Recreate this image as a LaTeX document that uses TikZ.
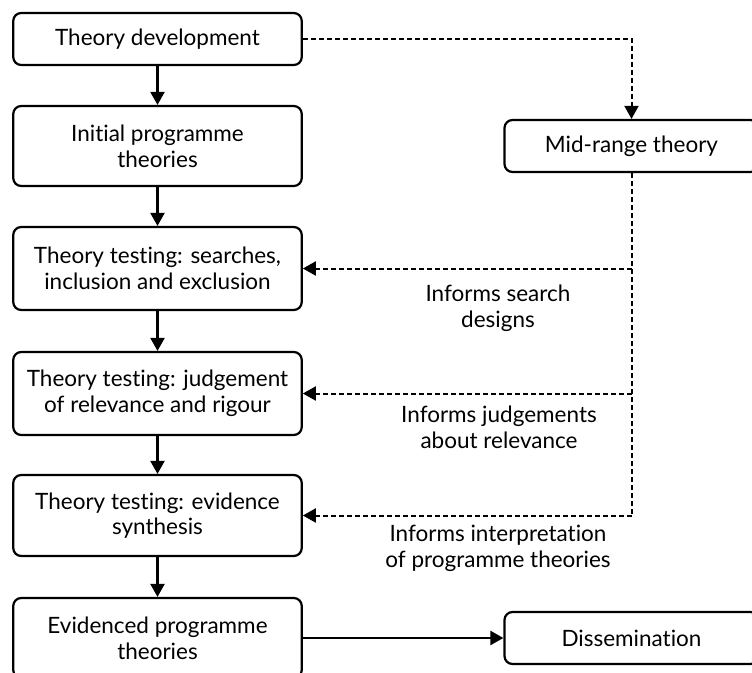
\documentclass[tikz,border=0pt]{standalone}
\usepackage{fontspec}
\setmainfont{Lato}[RawFeature={-liga}]
\usetikzlibrary{arrows.meta}
\begin{document}
\begin{tikzpicture}[x=1pt,y=-1pt,
  box/.style={draw, line width=2.2pt, rounded corners=8pt, align=center,
    inner sep=0pt, font=\fontsize{22.5}{25.7}\selectfont},
  stage/.style={box, minimum width=288.5pt},
  side/.style={box, minimum width=254pt, minimum height=52pt},
  flow/.style={line width=2.2pt, -{Triangle[length=13pt,width=14pt]}},
  feed/.style={line width=2pt, dash pattern=on 5pt off 3pt},
  feedarrow/.style={feed, -{Triangle[length=13pt,width=14pt]}},
  note/.style={align=center, inner sep=0pt, font=\fontsize{22.5}{25.7}\selectfont}]
  \useasboundingbox (0,0) rectangle (752,672);
  \clip (0,0) rectangle (752,672);

  % main sequence of stages
  \node[stage, minimum height=52pt] (dev) at (157.5,39) {Theory development};
  \node[stage, minimum height=80pt] (ipt) at (157.5,146) {Initial programme\\theories};
  \node[stage, minimum height=83pt] (search) at (157.5,268.5) {Theory testing: searches,\\inclusion and exclusion};
  \node[stage, minimum height=83pt] (judge) at (157.5,393.5) {Theory testing: judgement\\of relevance and rigour};
  \node[stage, minimum height=81pt] (synth) at (157.5,515.5) {Theory testing: evidence\\synthesis};
  \node[stage, minimum height=80pt] (evid) at (157.5,638) {Evidenced programme\\theories};

  % side boxes
  \node[side] (mid) at (631.5,146) {Mid-range theory};
  \node[side] (diss) at (631.5,638) {Dissemination};

  % solid flow
  \draw[flow] (dev) -- (ipt);
  \draw[flow] (ipt) -- (search);
  \draw[flow] (search) -- (judge);
  \draw[flow] (judge) -- (synth);
  \draw[flow] (synth) -- (evid);
  \draw[flow] (evid) -- (diss);

  % dashed feedback from mid-range theory
  \draw[feedarrow] (dev.east) -| (mid.north);
  \coordinate (j1) at (mid.south |- search.east);
  \coordinate (j2) at (mid.south |- judge.east);
  \coordinate (j3) at (mid.south |- synth.east);
  \draw[feed] (mid.south) -- (j3);
  \draw[feedarrow] (j1) -- (search.east);
  \draw[feedarrow] (j2) -- (judge.east);
  \draw[feedarrow] (j3) -- (synth.east);

  % labels under the feedback arrows
  \node[note] (lab1) at (498,308) {Informs search\\designs};
  \node[note] (lab2) at (499,427) {Informs judgements\\about relevance};
  \node[note] (lab3) at (498,548) {Informs interpretation\\of programme theories};
\end{tikzpicture}
\end{document}
